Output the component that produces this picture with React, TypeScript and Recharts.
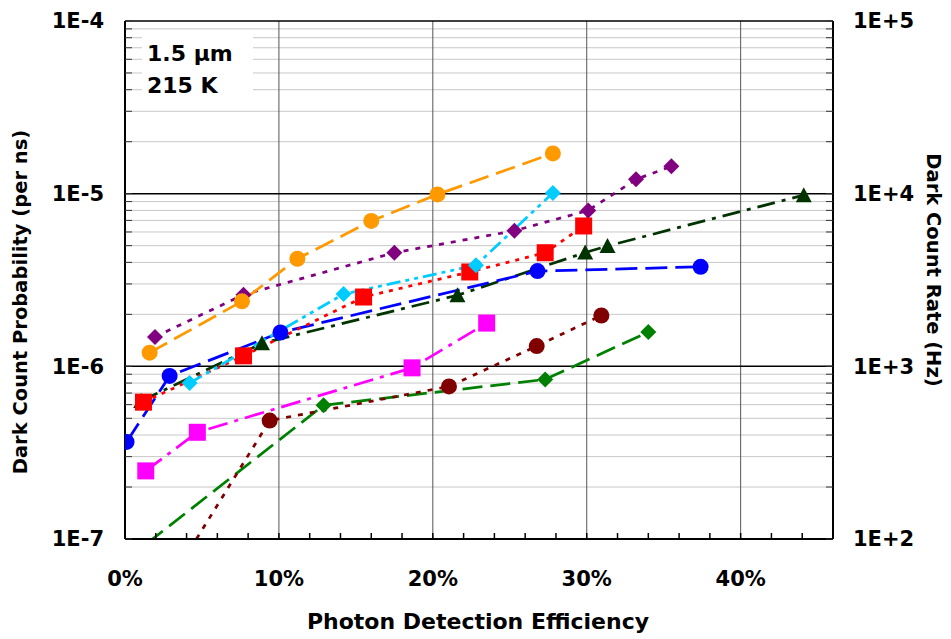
import React from 'react';
import { LineChart, Line, XAxis, YAxis, ReferenceLine } from 'recharts';

const FONT = '"DejaVu Sans", sans-serif';

// PDE (%) ticks, every 2 % with labels every 10 %
const pdeTicks = [0, 2, 4, 6, 8, 10, 12, 14, 16, 18, 20, 22, 24, 26, 28, 30, 32, 34, 36, 38, 40, 42, 44, 46];
const pdeGrid = [10, 20, 30, 40];
const probDecades = [1e-7, 1e-6, 1e-5, 1e-4];
const rateDecades = [1e2, 1e3, 1e4, 1e5];
const minorSteps = [2, 3, 4, 5, 6, 7, 8, 9];

// series: PDE (%) and dark count probability (per ns)
const orangePde = [1.6, 7.6, 11.2, 16.0, 20.3, 27.8];
const orangeDcp = [1.2e-6, 2.38e-6, 4.2e-6, 6.95e-6, 9.9e-6, 1.71e-5];

const purplePde = [1.95, 7.7, 17.5, 25.3, 30.1, 33.2, 35.5];
const purpleDcp = [1.48e-6, 2.6e-6, 4.55e-6, 6.1e-6, 8.0e-6, 1.21e-5, 1.44e-5];

const cyanPde = [4.2, 14.2, 22.8, 27.8];
const cyanDcp = [8.0e-7, 2.62e-6, 3.85e-6, 1.01e-5];

const redPde = [1.2, 7.7, 15.5, 22.4, 27.3, 29.8];
const redDcp = [6.2e-7, 1.15e-6, 2.52e-6, 3.52e-6, 4.55e-6, 6.5e-6];

const bluePde = [0.1, 2.9, 10.1, 26.8, 37.4];
const blueDcp = [3.65e-7, 8.8e-7, 1.57e-6, 3.56e-6, 3.77e-6];

const darkGreenPde = [1.05, 8.9, 21.6, 29.9, 31.35, 44.1];
const darkGreenDcp = [6.3e-7, 1.36e-6, 2.58e-6, 4.56e-6, 4.98e-6, 9.8e-6];

const magentaPde = [1.35, 4.7, 18.65, 23.5];
const magentaDcp = [2.48e-7, 4.15e-7, 9.8e-7, 1.78e-6];

const maroonPde = [3.0, 9.4, 21.05, 26.75, 30.95];
const maroonDcp = [5.8e-8, 4.85e-7, 7.65e-7, 1.31e-6, 1.97e-6];

const greenPde = [0, 12.9, 27.3, 34.0];
const greenDcp = [7.5e-8, 5.95e-7, 8.4e-7, 1.58e-6];

const pairs = (xs: number[], ys: number[]) => xs.map((x, i) => ({ x, y: ys[i] }));

const minorOf = (decades: number[]) =>
  decades.slice(0, -1).flatMap((d) => minorSteps.map((m) => d * m));

const probMinor = minorOf(probDecades);
const rateMinor = minorOf(rateDecades);

const isDecade = (v: number) => Math.abs(Math.log10(v) - Math.round(Math.log10(v))) < 1e-9;
const sciLabel = (v: number) => {
  if (!isDecade(v)) return '';
  const e = Math.round(Math.log10(v));
  return `1E${e < 0 ? '-' : '+'}${Math.abs(e)}`;
};

const makeDot = (shape: string, color: string) => (props: any) => {
  const { cx, cy, index } = props;
  if (cx == null || cy == null) return <g key={index} />;
  if (shape === 'circle') return <circle key={index} cx={cx} cy={cy} r={8} fill={color} />;
  if (shape === 'square')
    return <rect key={index} x={cx - 8.5} y={cy - 8.5} width={17} height={17} fill={color} />;
  if (shape === 'diamond')
    return (
      <polygon
        key={index}
        points={`${cx},${cy - 8} ${cx + 8},${cy} ${cx},${cy + 8} ${cx - 8},${cy}`}
        fill={color}
      />
    );
  return (
    <polygon
      key={index}
      points={`${cx},${cy - 8} ${cx + 8},${cy + 7} ${cx - 8},${cy + 7}`}
      fill={color}
    />
  );
};

const series = [
  { name: 'green', data: pairs(greenPde, greenDcp), color: '#008000', dash: '20 8', shape: 'diamond' },
  { name: 'maroon', data: pairs(maroonPde, maroonDcp), color: '#800000', dash: '5 7', shape: 'circle' },
  { name: 'magenta', data: pairs(magentaPde, magentaDcp), color: '#FF00FF', dash: '20 7 4 7', shape: 'square' },
  { name: 'darkGreen', data: pairs(darkGreenPde, darkGreenDcp), color: '#003300', dash: '18 7 4 7', shape: 'triangle' },
  { name: 'blue', data: pairs(bluePde, blueDcp), color: '#0000FF', dash: '22 8', shape: 'circle' },
  { name: 'red', data: pairs(redPde, redDcp), color: '#FF0000', dash: '4 6', shape: 'square' },
  { name: 'cyan', data: pairs(cyanPde, cyanDcp), color: '#00CCFF', dash: '14 5 4 5 4 5', shape: 'diamond' },
  { name: 'purple', data: pairs(purplePde, purpleDcp), color: '#800080', dash: '5 7', shape: 'diamond' },
  { name: 'orange', data: pairs(orangePde, orangeDcp), color: '#FF9900', dash: '20 8', shape: 'circle' },
];

const tickStyle = { fill: '#000', fontSize: 21, fontWeight: 'bold', fontFamily: FONT };

export default function App() {
  return (
    <div style={{ position: 'absolute', left: 0, top: 0, width: 951, height: 639, background: '#fff' }}>
      <LineChart width={951} height={639} margin={{ top: 21, right: 0, bottom: 0, left: 0 }}>
        <XAxis
          type="number"
          dataKey="x"
          domain={[0, 46]}
          ticks={pdeTicks}
          interval={0}
          allowDataOverflow
          height={100}
          tickSize={-6}
          tickMargin={38}
          tickFormatter={(v: number) => (v % 10 === 0 && v <= 40 ? `${v}%` : '')}
          axisLine={{ stroke: '#000', strokeWidth: 2 }}
          tickLine={{ stroke: '#000', strokeWidth: 1.5 }}
          tick={tickStyle}
          label={() => (
            <text
              x={478}
              y={629}
              textAnchor="middle"
              fontFamily={FONT}
              fontWeight="bold"
              fontSize={22}
              fill="#000"
            >
              Photon Detection Efficiency
            </text>
          )}
        />
        <YAxis
          yAxisId="left"
          type="number"
          scale="log"
          domain={[1e-7, 1e-4]}
          ticks={[...probDecades, ...probMinor]}
          interval={0}
          allowDataOverflow
          width={125}
          tickSize={-7}
          tickMargin={28}
          tickFormatter={sciLabel}
          axisLine={{ stroke: '#000', strokeWidth: 2 }}
          tickLine={{ stroke: '#333', strokeWidth: 1 }}
          tick={tickStyle}
          label={() => (
            <text
              x={27}
              y={302}
              transform="rotate(-90 27 302)"
              textAnchor="middle"
              fontFamily={FONT}
              fontWeight="bold"
              fontSize={19.5}
              fill="#000"
            >
              Dark Count Probability (per ns)
            </text>
          )}
        />
        <YAxis
          yAxisId="right"
          orientation="right"
          type="number"
          scale="log"
          domain={[1e2, 1e5]}
          ticks={[...rateDecades, ...rateMinor]}
          interval={0}
          allowDataOverflow
          width={118}
          tickSize={-7}
          tickMargin={27}
          tickFormatter={sciLabel}
          axisLine={{ stroke: '#000', strokeWidth: 2 }}
          tickLine={{ stroke: '#333', strokeWidth: 1 }}
          tick={tickStyle}
          label={() => (
            <text
              x={926.5}
              y={270}
              transform="rotate(90 926.5 270)"
              textAnchor="middle"
              fontFamily={FONT}
              fontWeight="bold"
              fontSize={19.5}
              fill="#000"
            >
              Dark Count Rate (Hz)
            </text>
          )}
        />

        {probMinor.map((v) => (
          <ReferenceLine key={`mn${v}`} yAxisId="left" y={v} stroke="#c8c8c8" strokeWidth={1} />
        ))}
        {pdeGrid.map((v) => (
          <ReferenceLine key={`vx${v}`} yAxisId="left" x={v} stroke="#555" strokeWidth={1} />
        ))}
        {probDecades.map((v) => (
          <ReferenceLine key={`mj${v}`} yAxisId="left" y={v} stroke="#000" strokeWidth={1.5} />
        ))}

        {series.map((s) => (
          <Line
            key={s.name}
            yAxisId="left"
            data={s.data}
            dataKey="y"
            type="linear"
            stroke={s.color}
            strokeWidth={2.75}
            strokeDasharray={s.dash}
            dot={makeDot(s.shape, s.color)}
            activeDot={false}
            isAnimationActive={false}
          />
        ))}
      </LineChart>
      <div
        style={{
          position: 'absolute',
          left: 142,
          top: 30,
          width: 111,
          height: 70,
          background: '#fff',
          boxSizing: 'border-box',
          paddingLeft: 5,
          paddingTop: 8,
          fontFamily: FONT,
          fontWeight: 'bold',
          fontSize: 22,
          lineHeight: '32px',
          color: '#000',
        }}
      >
        <div>1.5 µm</div>
        <div>215 K</div>
      </div>
    </div>
  );
}
